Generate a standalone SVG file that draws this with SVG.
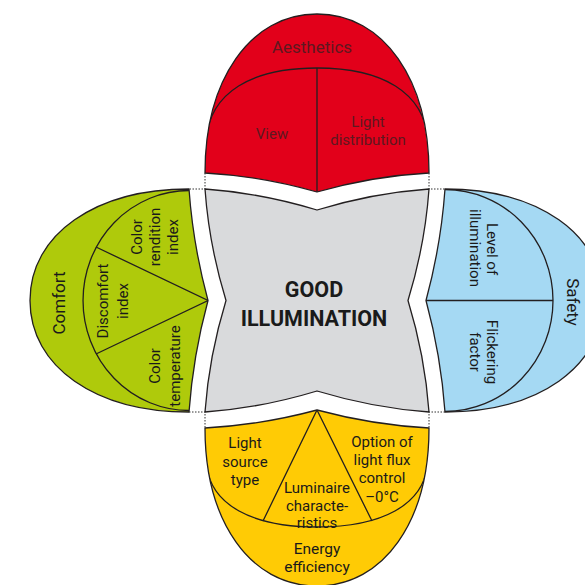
<svg xmlns="http://www.w3.org/2000/svg" xmlns:xlink="http://www.w3.org/1999/xlink" width="585" height="585" viewBox="0 0 585 585">
<style>
.o{stroke:#231f20;stroke-width:1.3;stroke-linejoin:round}
.l{fill:none;stroke:#231f20;stroke-width:1.3}
.t{font-family:Roboto,"Liberation Sans",sans-serif;font-size:15px;fill:#1a1a1a;text-anchor:middle}
.big{font-size:17px}
.r{fill:#5e1820}
.m{fill:none;stroke:#333;stroke-width:1;stroke-dasharray:1.5 1.5}
</style>
<defs>
<path id="pRed" d="M205,173 C205,80 250,14 317,14 C384,14 429,80 429,173 Q373,176 317,192 Q261,176 205,173 Z"/>
<path id="pGreen" d="M189,189 C96,189 30,234 30,300.5 C30,367 96,412 189,412 Q193,356 208,300.5 Q193,245 189,189 Z"/>
<path id="pBlue" d="M445,189 C538,189 603,234 603,300.5 C603,367 538,412 445,412 Q441,356 426,300.5 Q441,245 445,189 Z"/>
<path id="pYellow" d="M205,428 C205,521 250,586 317,586 C384,586 429,521 429,428 Q373,425 317,410 Q261,425 205,428 Z"/>
<clipPath id="cRed"><use xlink:href="#pRed"/></clipPath>
<clipPath id="cGreen"><use xlink:href="#pGreen"/></clipPath>
<clipPath id="cBlue"><use xlink:href="#pBlue"/></clipPath>
<clipPath id="cYellow"><use xlink:href="#pYellow"/></clipPath>
</defs>
<rect width="585" height="585" fill="#fff"/>

<g id="good-illumination">
<path class="o" fill="#d9dadc" d="M205,189 Q261,193 317,210 Q373,193 429,189 Q425,245 408,300.5 Q425,356 429,412 Q373,408 317,391 Q261,408 205,412 Q209,356 226,300.5 Q209,245 205,189 Z"/>
<text class="t" style="font-size:21.5px;font-weight:bold" x="314" y="297">GOOD</text>
<text class="t" style="font-size:21.5px;font-weight:bold" x="314" y="326">ILLUMINATION</text>
</g>

<g id="aesthetics">
<use xlink:href="#pRed" class="o" fill="#e2001a"/>
<g clip-path="url(#cRed)">
<path class="l" d="M206,140 C210,92 252,68 317,68 C382,68 424,92 428,140"/>
<path class="l" d="M317,68 L317,192"/>
</g>
<text class="t big r" x="312" y="53">Aesthetics</text>
<text class="t r" x="272" y="139">View</text>
<text class="t r" x="368" y="127">Light</text>
<text class="t r" x="368" y="145">distribution</text>
</g>

<g id="comfort">
<use xlink:href="#pGreen" class="o" fill="#afca0b"/>
<g clip-path="url(#cGreen)">
<path class="l" d="M189,190.5 A106,110 0 0 0 189,410.5"/>
<path class="l" d="M96,247 L208,300.5 L96,354"/>
</g>
<text class="t big" transform="translate(65,303) rotate(-90)">Comfort</text>
<text class="t" transform="translate(108,301) rotate(-90)">Discomfort</text>
<text class="t" transform="translate(128,301) rotate(-90)">index</text>
<text class="t" transform="translate(142,237) rotate(-90)">Color</text>
<text class="t" transform="translate(160,237) rotate(-90)">rendition</text>
<text class="t" transform="translate(178,237) rotate(-90)">index</text>
<text class="t" transform="translate(160,366) rotate(-90)">Color</text>
<text class="t" transform="translate(180,366) rotate(-90)">temperature</text>
</g>

<g id="safety">
<use xlink:href="#pBlue" class="o" fill="#a5d9f3"/>
<g clip-path="url(#cBlue)">
<path class="l" d="M445,189.5 A108,111 0 0 1 445,411.5"/>
<path class="l" d="M426,300.5 L553,300.5"/>
</g>
<text class="t big" transform="translate(567,302) rotate(90)">Safety</text>
<text class="t" transform="translate(487,249) rotate(90)">Level of</text>
<text class="t" transform="translate(470,248) rotate(90)">illumination</text>
<text class="t" transform="translate(487,352) rotate(90)">Flickering</text>
<text class="t" transform="translate(470,352) rotate(90)">factor</text>
</g>

<g id="energy-efficiency">
<use xlink:href="#pYellow" class="o" fill="#ffcb05"/>
<g clip-path="url(#cYellow)">
<path class="l" d="M206.5,465 C211,505 252,527 317,527 C382,527 423,505 427.5,465"/>
<path class="l" d="M263,521 L317,410 L372,521"/>
</g>
<text class="t" x="245" y="448">Light</text>
<text class="t" x="245" y="466.5">source</text>
<text class="t" x="245" y="485">type</text>
<text class="t" x="382" y="446.5">Option of</text>
<text class="t" x="382" y="465">light flux</text>
<text class="t" x="382" y="483">control</text>
<text class="t" x="382" y="501.5">–0°C</text>
<text class="t" x="317" y="493">Luminaire</text>
<text class="t" x="317" y="511">characte-</text>
<text class="t" x="317" y="527.5">ristics</text>
<text class="t" style="font-size:15.5px" x="317" y="554">Energy</text>
<text class="t" style="font-size:15.5px" x="317" y="572">efficiency</text>
</g>

<g id="connectors">
<path class="m" d="M205,173 V189 H189"/>
<path class="m" d="M429,173 V189 H445"/>
<path class="m" d="M189,412 H205 V428"/>
<path class="m" d="M445,412 H429 V428"/>
</g>
</svg>
